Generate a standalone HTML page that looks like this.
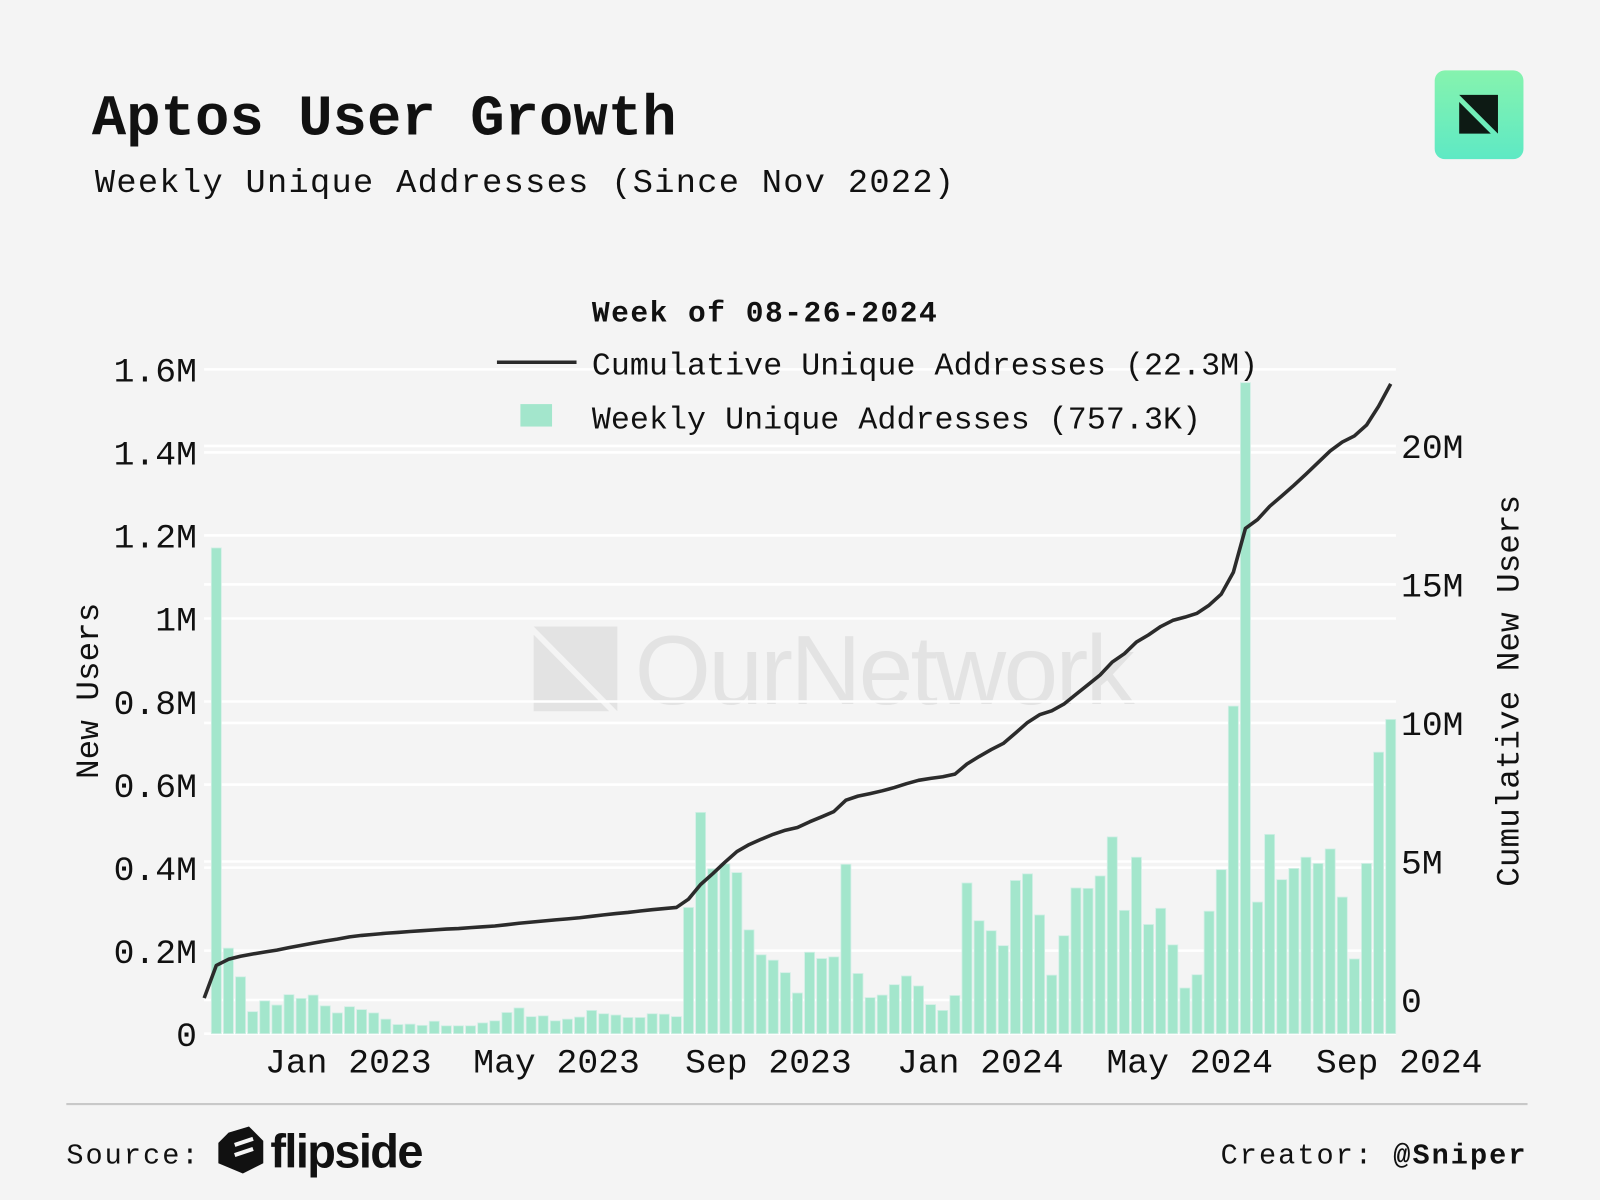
<!DOCTYPE html>
<html><head><meta charset="utf-8"><style>
html,body{margin:0;padding:0;background:#f4f4f4;}
svg{display:block;}
.mono{font-family:"Liberation Mono","DejaVu Sans Mono",monospace;}
</style></head><body>
<svg id="chart" width="1600" height="1200" viewBox="0 0 1568 1176" xmlns="http://www.w3.org/2000/svg">
<rect width="1568" height="1176" fill="#f4f4f4"/>
<text class="mono" x="90" y="132" font-size="56" font-weight="bold" fill="#111" textLength="573">Aptos User Growth</text>
<text class="mono" x="93" y="188" font-size="33" fill="#111" textLength="842">Weekly Unique Addresses (Since Nov 2022)</text>
<defs><linearGradient id="lg" x1="0" y1="0" x2="0" y2="1"><stop offset="0" stop-color="#86f3ae"/><stop offset="1" stop-color="#5ee9c4"/></linearGradient></defs>
<g>
<rect x="1406" y="69" width="87" height="87" rx="10" fill="url(#lg)"/>
<path d="M1430 93 L1468 93 L1468 131 Z" fill="#0d1a14"/>
<path d="M1430 100 L1461 131 L1430 131 Z" fill="#0d1a14"/>
</g>
<g>
<path d="M523 614 L605 614 L605 697 Z" fill="#e3e3e3"/>
<path d="M523 622 L597 697 L523 697 Z" fill="#e3e3e3"/>
<text x="622" y="690" font-family="Liberation Sans, sans-serif" font-size="96" fill="#e3e3e3" textLength="490">OurNetwork</text>
</g>
<g id="grid"></g>
<g id="bars"></g>
<path id="cumline" fill="none" stroke="#2b2b2b" stroke-width="3.5" stroke-linejoin="round"/>
<g id="ticks" class="mono" font-size="34" fill="#111"></g>
<text class="mono" font-size="32" fill="#111" text-anchor="middle" transform="translate(96,677) rotate(-90)">New Users</text>
<text class="mono" font-size="32" fill="#111" text-anchor="middle" transform="translate(1488,677) rotate(-90)">Cumulative New Users</text>
<g class="mono" font-size="31" fill="#111">
<text x="580" y="315" font-weight="bold" font-size="29" textLength="338">Week of 08-26-2024</text>
<line x1="487" y1="355" x2="565" y2="355" stroke="#2b2b2b" stroke-width="3.5"/>
<text x="580" y="367" textLength="653">Cumulative Unique Addresses (22.3M)</text>
<rect x="510" y="396" width="31" height="22" fill="#a3e6cc"/>
<text x="580" y="420" textLength="597">Weekly Unique Addresses (757.3K)</text>
</g>
<line x1="65" y1="1082" x2="1497" y2="1082" stroke="#c8c8c8" stroke-width="2"/>
<text class="mono" x="65" y="1140" font-size="28" fill="#111" letter-spacing="2">Source:</text>
<g>
<path d="M224 1110 L244 1104 L258 1118 L258 1140 L238 1150 L214 1140 L214 1120 Z" fill="#111"/>
<path d="M230 1122 L248 1116 M230 1132 L248 1126" stroke="#f4f4f4" stroke-width="4"/>
<text x="265" y="1144" font-family="Liberation Sans, sans-serif" font-size="46" font-weight="bold" fill="#111" textLength="150">flipside</text>
</g>
<text class="mono" x="1497" y="1140" font-size="28" fill="#111" text-anchor="end" letter-spacing="2">Creator: <tspan font-weight="bold">@Sniper</tspan></text>
</svg>
<script>
const weekly = [1.17,0.206,0.137,0.053,0.079,0.069,0.094,0.085,0.093,0.067,0.050,0.065,0.058,0.050,0.035,0.022,0.023,0.020,0.030,0.019,0.019,0.019,0.026,0.031,0.051,0.062,0.041,0.043,0.031,0.035,0.040,0.056,0.048,0.045,0.039,0.039,0.048,0.047,0.041,0.304,0.533,0.397,0.409,0.388,0.250,0.190,0.177,0.147,0.098,0.196,0.181,0.185,0.408,0.145,0.087,0.093,0.118,0.139,0.115,0.070,0.056,0.092,0.363,0.272,0.248,0.212,0.369,0.385,0.286,0.141,0.236,0.351,0.350,0.380,0.474,0.297,0.425,0.263,0.302,0.214,0.110,0.142,0.295,0.395,0.789,1.568,0.317,0.480,0.371,0.398,0.425,0.410,0.445,0.329,0.180,0.410,0.678,0.757];
const cumulative = [0.07,1.25,1.47,1.58,1.66,1.73,1.80,1.89,1.97,2.05,2.13,2.20,2.28,2.33,2.37,2.41,2.44,2.47,2.50,2.53,2.56,2.58,2.61,2.64,2.67,2.72,2.77,2.81,2.85,2.89,2.93,2.97,3.02,3.07,3.12,3.16,3.21,3.26,3.30,3.34,3.64,4.17,4.56,4.97,5.36,5.61,5.80,5.98,6.13,6.23,6.43,6.61,6.80,7.21,7.36,7.45,7.55,7.67,7.81,7.93,8.00,8.06,8.15,8.52,8.79,9.04,9.26,9.63,10.02,10.30,10.44,10.68,11.03,11.38,11.73,12.20,12.50,12.92,13.18,13.48,13.70,13.82,13.96,14.25,14.65,15.44,17.02,17.34,17.82,18.19,18.58,18.98,19.40,19.82,20.14,20.36,20.75,21.43,22.24];
const leftTicks = [0,0.2,0.4,0.6,0.8,1.0,1.2,1.4,1.6];
const leftTickLabels = ["0","0.2M","0.4M","0.6M","0.8M","1M","1.2M","1.4M","1.6M"];
const rightTicks = [0,5,10,15,20];
const rightTickLabels = ["0","5M","10M","15M","20M"];
const xTickWeeks = [10.9,28.1,45.6,63.1,80.4,97.7];
const xTickLabels = ["Jan 2023","May 2023","Sep 2023","Jan 2024","May 2024","Sep 2024"];

const NS="http://www.w3.org/2000/svg";
const yL = v => 1013 - v/1.6*651;
const yR = v => 980 - v/20*543;
const xS = i => 212 + i*11.865;
function mk(tag, attrs, parent){const e=document.createElementNS(NS,tag);for(const k in attrs)e.setAttribute(k,attrs[k]);parent.appendChild(e);return e;}
const grid=document.getElementById('grid'), bars=document.getElementById('bars'), ticks=document.getElementById('ticks');
leftTicks.forEach((t,i)=>{
  const l=mk('line',{x1:200,x2:1368,y1:yL(t),y2:yL(t),stroke:'#ffffff','stroke-width':2.5},grid);
  
  
  const tx=mk('text',{x:193,y:yL(t)+12,'text-anchor':'end'},ticks);
  tx.textContent=leftTickLabels[i];
  
  
});
rightTicks.forEach((t,i)=>{
  const l=mk('line',{x1:200,x2:1368,y1:yR(t),y2:yR(t),stroke:'#ffffff','stroke-width':2.5},grid);
  
  
  const tx=mk('text',{x:1373,y:yR(t)+12},ticks);
  tx.textContent=rightTickLabels[i];
  
  
});
xTickWeeks.forEach((w,i)=>{
  const tx=mk('text',{x:xS(w),y:1051,'text-anchor':'middle'},ticks);
  tx.textContent=xTickLabels[i];
  
  
});
weekly.forEach((v,i)=>{
  const r=mk('rect',{x:xS(i)-4.9,y:yL(v),width:9.8,height:Math.max(0,1013-yL(v)),fill:'#a3e6cc',stroke:'#d2efe6','stroke-width':0.8},bars);
  
  
});
document.getElementById('cumline').setAttribute('d', cumulative.map((v,i)=>(i?'L':'M')+xS(i-1).toFixed(1)+' '+yR(v).toFixed(1)).join(' '));
</script>
</body></html>
